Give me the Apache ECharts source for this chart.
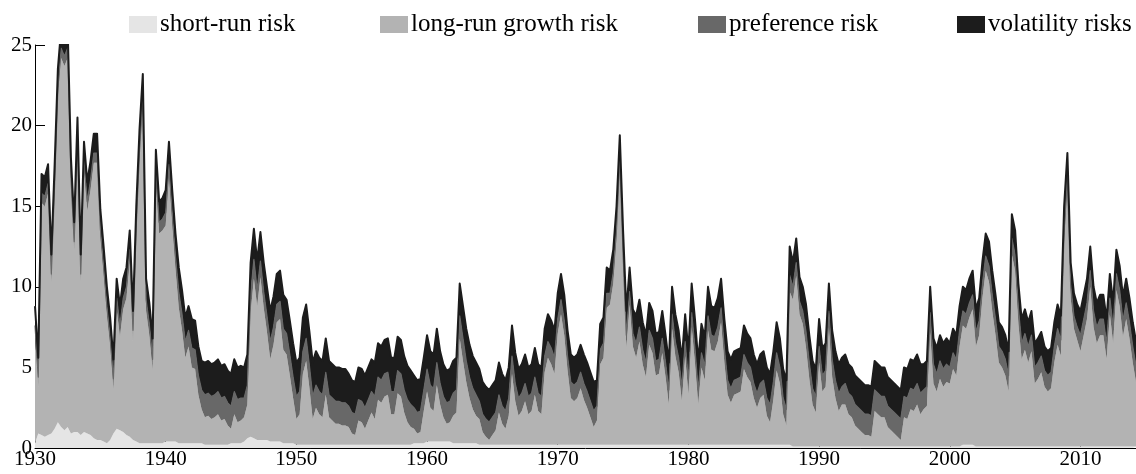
<!DOCTYPE html>
<html>
<head>
<meta charset="utf-8">
<title>Risk decomposition</title>
<script src="https://cdn.jsdelivr.net/npm/echarts/dist/echarts.min.js"></script>
<style>
  html, body { margin: 0; padding: 0; background: #fff; }
  #chart { width: 1136px; height: 474px; }
</style>
</head>
<body>
<div id="chart"></div>
<script>
// Quarterly observations, starting in 1930 Q1.
const START_YEAR = 1930;
const QUARTERS = 4;
const DECADE_STEP = 40; // quarters between labelled ticks

const seriesNames = ['short-run risk', 'long-run growth risk', 'preference risk', 'volatility risks'];
const yTickValues = [0, 5, 10, 15, 20, 25];

// one row per year, four quarters per row
const shortRun = [
  0.3, 0.9, 0.8, 0.7,   // 1930
  0.8, 0.9, 1.2, 1.6,
  1.3, 1.1, 1.3, 0.9,
  1.0, 1.0, 0.8, 1.0,
  0.9, 0.8, 0.6, 0.5,
  0.5, 0.4, 0.3, 0.5,
  0.9, 1.2, 1.1, 1.0,
  0.8, 0.7, 0.5, 0.4,
  0.3, 0.3, 0.3, 0.3,
  0.3, 0.3, 0.3, 0.3,
  0.4, 0.4, 0.4, 0.4,   // 1940
  0.3, 0.3, 0.3, 0.3,
  0.3, 0.3, 0.3, 0.3,
  0.2, 0.2, 0.2, 0.2,
  0.2, 0.2, 0.2, 0.2,
  0.3, 0.3, 0.3, 0.3,
  0.4, 0.6, 0.7, 0.6,
  0.5, 0.5, 0.5, 0.5,
  0.4, 0.4, 0.4, 0.4,
  0.3, 0.3, 0.3, 0.3,
  0.2, 0.2, 0.2, 0.2,   // 1950
  0.2, 0.2, 0.2, 0.2,
  0.2, 0.2, 0.2, 0.2,
  0.2, 0.2, 0.2, 0.2,
  0.2, 0.2, 0.2, 0.2,
  0.2, 0.2, 0.2, 0.2,
  0.2, 0.2, 0.2, 0.2,
  0.2, 0.2, 0.2, 0.2,
  0.2, 0.2, 0.2, 0.2,
  0.3, 0.3, 0.3, 0.3,
  0.4, 0.4, 0.4, 0.4,   // 1960
  0.4, 0.4, 0.4, 0.4,
  0.3, 0.3, 0.3, 0.3,
  0.3, 0.3, 0.3, 0.3,
  0.2, 0.2, 0.2, 0.2,
  0.2, 0.2, 0.2, 0.2,
  0.2, 0.2, 0.2, 0.2,
  0.2, 0.2, 0.2, 0.2,
  0.2, 0.2, 0.2, 0.2,
  0.2, 0.2, 0.2, 0.2,
  0.2, 0.2, 0.2, 0.2,   // 1970
  0.2, 0.2, 0.2, 0.2,
  0.2, 0.2, 0.2, 0.2,
  0.2, 0.2, 0.2, 0.2,
  0.2, 0.2, 0.2, 0.2,
  0.2, 0.2, 0.2, 0.2,
  0.2, 0.2, 0.2, 0.2,
  0.2, 0.2, 0.2, 0.2,
  0.2, 0.2, 0.2, 0.2,
  0.2, 0.2, 0.2, 0.2,
  0.2, 0.2, 0.2, 0.2,   // 1980
  0.2, 0.2, 0.2, 0.2,
  0.2, 0.2, 0.2, 0.2,
  0.2, 0.2, 0.2, 0.2,
  0.2, 0.2, 0.2, 0.2,
  0.2, 0.2, 0.2, 0.2,
  0.2, 0.2, 0.2, 0.2,
  0.2, 0.2, 0.2, 0.2,
  0.1, 0.1, 0.1, 0.1,
  0.1, 0.1, 0.1, 0.1,
  0.1, 0.1, 0.1, 0.1,   // 1990
  0.1, 0.1, 0.1, 0.1,
  0.1, 0.1, 0.1, 0.1,
  0.1, 0.1, 0.1, 0.1,
  0.1, 0.1, 0.1, 0.1,
  0.1, 0.1, 0.1, 0.1,
  0.1, 0.1, 0.1, 0.1,
  0.1, 0.1, 0.1, 0.1,
  0.1, 0.1, 0.1, 0.1,
  0.1, 0.1, 0.1, 0.1,
  0.1, 0.1, 0.1, 0.1,   // 2000
  0.2, 0.2, 0.2, 0.2,
  0.1, 0.1, 0.1, 0.1,
  0.1, 0.1, 0.1, 0.1,
  0.1, 0.1, 0.1, 0.1,
  0.1, 0.1, 0.1, 0.1,
  0.1, 0.1, 0.1, 0.1,
  0.1, 0.1, 0.1, 0.1,
  0.1, 0.1, 0.1, 0.1,
  0.1, 0.1, 0.1, 0.1,
  0.1, 0.1, 0.1, 0.1,   // 2010
  0.1, 0.1, 0.1, 0.1,
  0.1, 0.1, 0.1, 0.1,
  0.1, 0.1, 0.1, 0.1,
  0.1, 0.1              // 2014
];

const longRunGrowth = [
  6.7, 2.9, 14.4, 14.3,   // 1930
  15.0, 9.3, 14.5, 20.1,
  22.9, 22.6, 22.9, 15.3,
  11.2, 17.7, 9.4, 16.2,
  13.8, 15.2, 17.1, 17.2,
  12.5, 10.3, 7.9, 5.8,
  2.7, 7.4, 5.8, 7.6,
  8.5, 10.9, 6.1, 12.7,
  17.5, 20.9, 8.2, 6.7,
  4.5, 16.2, 13.0, 13.2,
  13.4, 16.4, 13.4, 10.7, // 1940
  8.4, 7.0, 5.3, 6.0,
  4.7, 4.6, 3.0, 2.1,
  1.7, 1.8, 1.6, 1.7,
  1.9, 1.5, 1.6, 1.2,
  0.9, 1.8, 1.3, 1.4,
  1.5, 2.1, 7.7, 9.9,
  8.3, 10.1, 8.2, 6.7,
  5.1, 6.0, 7.4, 7.6,
  5.8, 5.5, 4.2, 2.8,
  1.6, 1.9, 4.4, 5.2,     // 1950
  3.5, 1.6, 2.3, 1.9,
  1.7, 3.1, 1.7, 1.5,
  1.3, 1.3, 1.2, 1.2,
  1.1, 0.7, 0.6, 1.5,
  1.4, 1.0, 1.5, 2.0,
  1.6, 2.8, 2.6, 3.0,
  3.1, 1.9, 1.9, 3.2,
  3.0, 2.0, 1.4, 1.1,
  0.9, 0.6, 0.7, 2.0,
  3.1, 2.1, 1.9, 3.5,     // 1960
  2.3, 1.5, 1.1, 1.2,
  1.7, 1.9, 6.5, 5.1,
  3.8, 2.8, 2.1, 1.7,
  1.6, 0.8, 0.5, 0.3,
  0.6, 0.9, 2.0, 1.3,
  1.0, 1.8, 4.4, 2.7,
  1.8, 2.1, 2.7, 1.9,
  2.1, 3.1, 2.1, 1.9,
  4.5, 5.4, 5.0, 4.4,
  6.9, 8.1, 6.8, 4.6,     // 1970
  2.9, 2.7, 2.9, 3.5,
  2.8, 2.3, 1.7, 1.1,
  1.5, 5.0, 5.4, 8.5,
  8.7, 10.0, 12.7, 17.1,
  11.0, 6.0, 8.7, 6.1,
  5.4, 6.4, 5.0, 4.2,
  6.2, 5.7, 4.3, 4.4,
  5.7, 4.2, 2.5, 7.2,
  5.5, 4.5, 2.7, 5.5,
  3.1, 7.3, 5.1, 2.5,     // 1980
  4.8, 4.0, 7.1, 5.9,
  5.8, 6.4, 7.6, 5.1,
  3.1, 2.6, 3.1, 3.2,
  3.3, 4.7, 4.2, 3.9,
  2.9, 2.3, 2.9, 3.1,
  1.8, 1.4, 2.8, 4.6,
  3.8, 1.9, 1.2, 9.5,
  9.1, 10.6, 8.2, 7.6,
  6.1, 4.2, 2.6, 2.1,
  5.2, 3.4, 3.7, 7.4,     // 1990
  4.3, 3.0, 2.2, 2.6,
  2.6, 2.0, 1.8, 1.3,
  1.1, 0.9, 0.7, 0.7,
  0.6, 2.2, 2.0, 1.8,
  1.8, 1.2, 1.0, 0.8,
  0.6, 0.4, 1.8, 1.7,
  2.3, 2.2, 2.6, 2.0,
  2.3, 2.5, 7.1, 3.9,
  3.4, 4.2, 3.7, 4.0,
  3.9, 4.8, 4.4, 6.2,     // 2000
  7.4, 7.2, 7.9, 8.4,
  6.2, 6.9, 9.2, 10.9,
  10.2, 8.4, 6.9, 5.2,
  4.9, 4.4, 3.4, 11.9,
  10.9, 7.6, 5.4, 6.0,
  5.2, 5.9, 3.9, 4.2,
  4.6, 3.7, 3.4, 3.6,
  5.2, 6.3, 5.6, 12.4,
  16.0, 9.2, 7.3, 6.6,
  5.9, 6.9, 7.9, 9.9,     // 2010
  7.4, 6.4, 6.9, 6.9,
  5.4, 8.2, 6.4, 9.7,
  8.7, 6.8, 7.9, 6.7,
  5.2, 4.0                // 2014
];

const preference = [
  0.6, 0.6, 0.6, 0.6,   // 1930
  0.6, 0.6, 0.6, 0.6,
  0.6, 0.6, 0.6, 0.6,
  0.6, 0.6, 0.6, 0.6,
  0.6, 0.6, 0.6, 0.6,
  0.6, 0.6, 0.6, 0.6,
  0.7, 0.7, 0.7, 0.7,
  0.7, 0.7, 0.7, 0.7,
  0.7, 0.7, 0.7, 0.7,
  0.7, 0.7, 0.7, 0.7,
  0.8, 0.8, 0.8, 0.8,   // 1940
  1.0, 1.0, 1.0, 1.0,
  1.2, 1.2, 1.2, 1.2,
  1.4, 1.4, 1.4, 1.4,
  1.4, 1.4, 1.4, 1.4,
  1.4, 1.4, 1.4, 1.4,
  1.2, 1.2, 1.2, 1.2,
  1.0, 1.0, 1.0, 1.0,
  1.1, 1.1, 1.1, 1.1,
  1.3, 1.3, 1.3, 1.3,
  1.4, 1.4, 1.4, 1.4,   // 1950
  1.4, 1.4, 1.4, 1.4,
  1.4, 1.4, 1.4, 1.4,
  1.4, 1.4, 1.4, 1.4,
  1.3, 1.3, 1.3, 1.3,
  1.3, 1.3, 1.3, 1.3,
  1.4, 1.4, 1.4, 1.4,
  1.4, 1.4, 1.4, 1.4,
  1.4, 1.4, 1.4, 1.4,
  1.3, 1.3, 1.3, 1.3,
  1.4, 1.4, 1.4, 1.4,   // 1960
  1.3, 1.3, 1.3, 1.3,
  1.4, 1.4, 1.4, 1.4,
  1.3, 1.3, 1.3, 1.3,
  1.1, 1.1, 1.1, 1.1,
  1.1, 1.1, 1.1, 1.1,
  1.1, 1.1, 1.1, 1.1,
  1.1, 1.1, 1.1, 1.1,
  1.1, 1.1, 1.1, 1.1,
  1.0, 1.0, 1.0, 1.0,
  0.9, 0.9, 0.9, 0.9,   // 1970
  1.0, 1.0, 1.0, 1.0,
  1.0, 1.0, 1.0, 1.0,
  0.9, 0.9, 0.9, 0.9,
  0.7, 0.7, 0.7, 0.7,
  0.8, 0.8, 0.8, 0.8,
  0.9, 0.9, 0.9, 0.9,
  0.9, 0.9, 0.9, 0.9,
  0.9, 0.9, 0.9, 0.9,
  0.9, 0.9, 0.9, 0.9,
  0.9, 0.9, 0.9, 0.9,   // 1980
  0.9, 0.9, 0.9, 0.9,
  0.9, 0.9, 0.9, 0.9,
  0.9, 0.9, 0.9, 0.9,
  0.9, 0.9, 0.9, 0.9,
  0.9, 0.9, 0.9, 0.9,
  1.1, 1.1, 1.1, 1.1,
  1.0, 1.0, 1.0, 1.0,
  0.8, 0.8, 0.8, 0.8,
  1.0, 1.0, 1.0, 1.0,
  1.0, 1.0, 1.0, 1.0,   // 1990
  1.1, 1.1, 1.1, 1.1,
  1.3, 1.3, 1.3, 1.3,
  1.3, 1.3, 1.3, 1.3,
  1.3, 1.3, 1.3, 1.3,
  1.3, 1.3, 1.3, 1.3,
  1.3, 1.3, 1.3, 1.3,
  1.3, 1.3, 1.3, 1.3,
  1.2, 1.2, 1.2, 1.2,
  1.1, 1.1, 1.1, 1.1,
  1.0, 1.0, 1.0, 1.0,   // 2000
  0.9, 0.9, 0.9, 0.9,
  0.9, 0.9, 0.9, 0.9,
  1.0, 1.0, 1.0, 1.0,
  1.0, 1.0, 1.0, 1.0,
  1.0, 1.0, 1.0, 1.0,
  1.0, 1.0, 1.0, 1.0,
  1.0, 1.0, 1.0, 1.0,
  1.0, 1.0, 1.0, 1.0,
  0.8, 0.8, 0.8, 0.8,
  1.0, 1.0, 1.0, 1.0,   // 2010
  1.0, 1.0, 1.0, 1.0,
  1.0, 1.0, 1.0, 1.0,
  1.0, 1.0, 1.0, 1.0,
  1.0, 1.0              // 2014
];

const volatility = [
  1.2, 1.2, 1.2, 1.2,   // 1930
  1.2, 1.2, 1.2, 1.2,
  1.2, 1.2, 1.2, 1.2,
  1.2, 1.2, 1.2, 1.2,
  1.2, 1.2, 1.2, 1.2,
  1.2, 1.2, 1.2, 1.2,
  1.2, 1.2, 1.2, 1.2,
  1.2, 1.2, 1.2, 1.2,
  1.3, 1.3, 1.3, 1.3,
  1.3, 1.3, 1.3, 1.3,
  1.4, 1.4, 1.4, 1.4,   // 1940
  1.5, 1.5, 1.5, 1.5,
  1.8, 1.8, 1.8, 1.8,
  2.0, 2.0, 2.0, 2.0,
  2.0, 2.0, 2.0, 2.0,
  2.0, 2.0, 2.0, 2.0,
  1.9, 1.9, 1.9, 1.9,
  1.8, 1.8, 1.8, 1.8,
  1.9, 1.9, 1.9, 1.9,
  2.1, 2.1, 2.1, 2.1,
  2.1, 2.1, 2.1, 2.1,   // 1950
  2.1, 2.1, 2.1, 2.1,
  2.1, 2.1, 2.1, 2.1,
  2.1, 2.1, 2.1, 2.1,
  2.0, 2.0, 2.0, 2.0,
  2.0, 2.0, 2.0, 2.0,
  2.1, 2.1, 2.1, 2.1,
  2.1, 2.1, 2.1, 2.1,
  2.1, 2.1, 2.1, 2.1,
  2.0, 2.0, 2.0, 2.0,
  2.1, 2.1, 2.1, 2.1,   // 1960
  2.0, 2.0, 2.0, 2.0,
  2.0, 2.0, 2.0, 2.0,
  2.0, 2.0, 2.0, 2.0,
  2.0, 2.0, 2.0, 2.0,
  2.0, 2.0, 2.0, 2.0,
  1.9, 1.9, 1.9, 1.9,
  1.8, 1.8, 1.8, 1.8,
  1.8, 1.8, 1.8, 1.8,
  1.7, 1.7, 1.7, 1.7,
  1.6, 1.6, 1.6, 1.6,   // 1970
  1.7, 1.7, 1.7, 1.7,
  1.8, 1.8, 1.8, 1.8,
  1.6, 1.6, 1.6, 1.6,
  1.4, 1.4, 1.4, 1.4,
  1.5, 1.5, 1.5, 1.5,
  1.7, 1.7, 1.7, 1.7,
  1.7, 1.7, 1.7, 1.7,
  1.7, 1.7, 1.7, 1.7,
  1.7, 1.7, 1.7, 1.7,
  1.8, 1.8, 1.8, 1.8,   // 1980
  1.8, 1.8, 1.8, 1.8,
  1.8, 1.8, 1.8, 1.8,
  1.8, 1.8, 1.8, 1.8,
  1.8, 1.8, 1.8, 1.8,
  1.8, 1.8, 1.8, 1.8,
  1.9, 1.9, 1.9, 1.9,
  1.8, 1.8, 1.8, 1.8,
  1.5, 1.5, 1.5, 1.5,
  1.7, 1.7, 1.7, 1.7,
  1.7, 1.7, 1.7, 1.7,   // 1990
  1.8, 1.8, 1.8, 1.8,
  1.8, 1.8, 1.8, 1.8,
  1.8, 1.8, 1.8, 1.8,
  1.8, 1.8, 1.8, 1.8,
  1.8, 1.8, 1.8, 1.8,
  1.8, 1.8, 1.8, 1.8,
  1.8, 1.8, 1.8, 1.8,
  1.6, 1.6, 1.6, 1.6,
  1.6, 1.6, 1.6, 1.6,
  1.5, 1.5, 1.5, 1.5,   // 2000
  1.5, 1.5, 1.5, 1.5,
  1.4, 1.4, 1.4, 1.4,
  1.5, 1.5, 1.5, 1.5,
  1.5, 1.5, 1.5, 1.5,
  1.5, 1.5, 1.5, 1.5,
  1.5, 1.5, 1.5, 1.5,
  1.5, 1.5, 1.5, 1.5,
  1.5, 1.5, 1.5, 1.5,
  1.4, 1.4, 1.4, 1.4,
  1.5, 1.5, 1.5, 1.5,   // 2010
  1.5, 1.5, 1.5, 1.5,
  1.5, 1.5, 1.5, 1.5,
  1.5, 1.5, 1.5, 1.5,
  1.5, 1.5              // 2014
];

const seriesValues = [shortRun, longRunGrowth, preference, volatility];
const seriesColors = ['#e5e5e5', '#b3b3b3', '#686868', '#1c1c1c'];
// outline drawn along the top edge of each layer (0 = none)
const edgeWidths = [0, 0, 1.2, 2];
const legendLefts = [129, 380, 698, 957];

// quarter labels such as "1930 Q1"; only the Q1 of each decade is printed
const quarters = shortRun.map((_, i) =>
  (START_YEAR + Math.floor(i / QUARTERS)) + ' Q' + (i % QUARTERS + 1));
const isDecadeTick = (index) => index % DECADE_STEP === 0;

const FONT = '"Liberation Serif", "Times New Roman", serif';

const chart = echarts.init(document.getElementById('chart'), null, { renderer: 'canvas' });

const series = seriesNames.map((name, k) => ({
  name: name,
  type: 'line',
  stack: 'risk',
  symbol: 'none',
  showSymbol: false,
  clip: true,
  smooth: false,
  lineStyle: { width: edgeWidths[k], color: seriesColors[k], join: 'round' },
  itemStyle: { color: seriesColors[k] },
  areaStyle: { color: seriesColors[k], opacity: 1 },
  emphasis: { disabled: true },
  data: seriesValues[k]
}));

const legends = seriesNames.map((name, k) => ({
  data: [name],
  left: legendLefts[k],
  top: 12,
  padding: 0,
  icon: 'rect',
  itemWidth: 28,
  itemHeight: 17,
  selectedMode: false,
  textStyle: { fontFamily: FONT, fontSize: 25, color: '#000', padding: [0, 0, 0, -2] }
}));

chart.setOption({
  animation: false,
  backgroundColor: '#ffffff',
  legend: legends,
  grid: { left: 35, right: 0, top: 45, bottom: 26 },
  xAxis: {
    type: 'category',
    boundaryGap: false,
    data: quarters,
    axisLine: { show: true, lineStyle: { color: '#000', width: 1 } },
    axisTick: { show: true, inside: true, length: 9, interval: isDecadeTick, lineStyle: { color: '#000' } },
    axisLabel: {
      fontFamily: FONT, fontSize: 21, color: '#000', margin: 1,
      interval: isDecadeTick,
      formatter: (v) => v.split(' ')[0]
    },
    splitLine: { show: false }
  },
  yAxis: {
    type: 'value',
    min: 0,
    max: 25,
    interval: 5,
    axisLine: { show: true, lineStyle: { color: '#000', width: 1 } },
    axisTick: { show: true, inside: true, length: 10, lineStyle: { color: '#000' }, customValues: yTickValues },
    axisLabel: { fontFamily: FONT, fontSize: 21, color: '#000', margin: 3, customValues: yTickValues },
    splitLine: { show: false }
  },
  series: series
});
</script>
</body>
</html>
